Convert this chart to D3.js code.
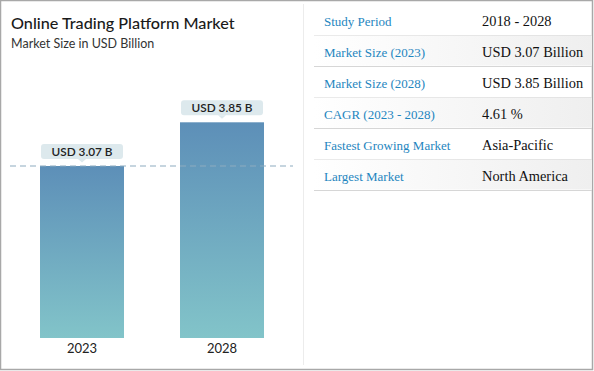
<!DOCTYPE html>
<html>
<head>
<meta charset="utf-8">
<script src="https://cdn.jsdelivr.net/npm/d3@7"></script>
<style>
    body { margin: 0; background: #fff; }
</style>
</head>
<body>
<div id="chart"></div>
<script>
const years = ["2023", "2028"];
const marketSize = [3.07, 3.85];
const barLabels = ["USD 3.07 B", "USD 3.85 B"];
const tableLabels = ["Study Period", "Market Size (2023)", "Market Size (2028)", "CAGR (2023 - 2028)", "Fastest Growing Market", "Largest Market"];
const tableValues = ["2018 - 2028", "USD 3.07 Billion", "USD 3.85 Billion", "4.61 %", "Asia-Pacific", "North America"];

const W = 594, H = 371;

const svg = d3.select("#chart")
    .append("svg")
    .attr("width", W)
    .attr("height", H);

const defs = svg.append("defs");
const barGrad = defs.append("linearGradient")
    .attr("id", "barGrad")
    .attr("x1", 0).attr("y1", 0).attr("x2", 0).attr("y2", 1);
barGrad.append("stop").attr("offset", "0%").attr("stop-color", "#5d8fb8");
barGrad.append("stop").attr("offset", "100%").attr("stop-color", "#82c4c9");

const rowGrad = defs.append("linearGradient")
    .attr("id", "rowGrad")
    .attr("x1", 0).attr("y1", 0).attr("x2", 1).attr("y2", 0);
rowGrad.append("stop").attr("offset", "0%").attr("stop-color", "#ffffff");
rowGrad.append("stop").attr("offset", "100%").attr("stop-color", "#efefef");

// outer frame
svg.append("rect")
    .attr("x", 0.5).attr("y", 0.5)
    .attr("width", W - 2).attr("height", H - 2)
    .attr("fill", "#fff")
    .attr("stroke", "#a8a8a8")
    .attr("stroke-width", 1.5);

// divider between chart and table
svg.append("line")
    .attr("x1", 303.5).attr("x2", 303.5)
    .attr("y1", 4).attr("y2", 365)
    .attr("stroke", "#ececec");

// titles
svg.append("text")
    .attr("x", 11).attr("y", 29)
    .style("font-family", "Lato, sans-serif")
    .style("font-size", "16.2px")
    .style("font-weight", "500")
    .attr("fill", "#1a1a1a")
    .text("Online Trading Platform Market");

svg.append("text")
    .attr("x", 11).attr("y", 48)
    .style("font-family", "Lato, sans-serif")
    .style("font-size", "12.5px")
    .attr("fill", "#333")
    .text("Market Size in USD Billion");

// bars
const x = d3.scaleBand()
    .domain(years)
    .range([12, 292])
    .paddingInner(0.4)
    .paddingOuter(0.2);

const y = d3.scaleLinear()
    .domain([0, 3.07])
    .range([338, 166]);

svg.append("g")
    .selectAll("rect")
    .data(years)
    .join("rect")
    .attr("x", (d) => x(d))
    .attr("y", (d, i) => y(marketSize[i]))
    .attr("width", x.bandwidth())
    .attr("height", (d, i) => y(0) - y(marketSize[i]))
    .attr("fill", "url(#barGrad)");

// reference dashed line at first value
svg.append("line")
    .attr("x1", 10).attr("x2", 293)
    .attr("y1", y(marketSize[0])).attr("y2", y(marketSize[0]))
    .attr("stroke", "#8eabc0")
    .attr("stroke-width", 1.2)
    .attr("stroke-dasharray", "6,4");

// value callouts
const callouts = svg.append("g")
    .selectAll("g")
    .data(years)
    .join("g")
    .attr("transform", (d, i) => `translate(${x(d) + x.bandwidth() / 2},${y(marketSize[i]) - 7})`);

callouts.append("rect")
    .attr("x", -41).attr("y", -15)
    .attr("width", 82).attr("height", 15)
    .attr("rx", 3)
    .attr("fill", "#dde9ed");

callouts.append("path")
    .attr("d", "M-4,0 L0,3.5 L4,0 Z")
    .attr("fill", "#dde9ed");

callouts.append("text")
    .attr("y", -3.5)
    .attr("text-anchor", "middle")
    .style("font-family", "Lato, sans-serif")
    .style("font-size", "11.8px")
    .style("font-weight", "600")
    .attr("fill", "#222")
    .text((d, i) => barLabels[i]);

// x axis labels
svg.append("g")
    .attr("transform", "translate(0,338)")
    .call(d3.axisBottom(x).tickSize(0).tickPadding(6))
    .call((g) => g.select(".domain").remove())
    .selectAll("text")
    .style("font-family", "Lato, sans-serif")
    .style("font-size", "13px")
    .attr("fill", "#222");

// table
const rowTop = 4, rowH = 31;
const rows = svg.append("g")
    .selectAll("g")
    .data(tableLabels)
    .join("g")
    .attr("transform", (d, i) => `translate(0,${rowTop + i * rowH})`);

rows.filter((d, i) => i % 2 === 1)
    .append("rect")
    .attr("x", 314).attr("y", 0.5)
    .attr("width", 278).attr("height", rowH - 1)
    .attr("fill", "url(#rowGrad)");

rows.append("line")
    .attr("x1", 314).attr("x2", 592)
    .attr("y1", rowH + 0.5).attr("y2", rowH + 0.5)
    .attr("stroke", "#d6d6d6")
    .attr("stroke-width", 1.2);

rows.append("text")
    .attr("x", 324).attr("y", 21.5)
    .style("font-family", "'Liberation Serif', 'Times New Roman', serif")
    .style("font-size", "13px")
    .attr("fill", "#1f86c0")
    .text((d) => d);

rows.append("text")
    .attr("x", 482).attr("y", 21.5)
    .style("font-family", "'Liberation Serif', 'Times New Roman', serif")
    .style("font-size", "14.4px")
    .attr("fill", "#111")
    .text((d, i) => tableValues[i]);
</script>
</body>
</html>
